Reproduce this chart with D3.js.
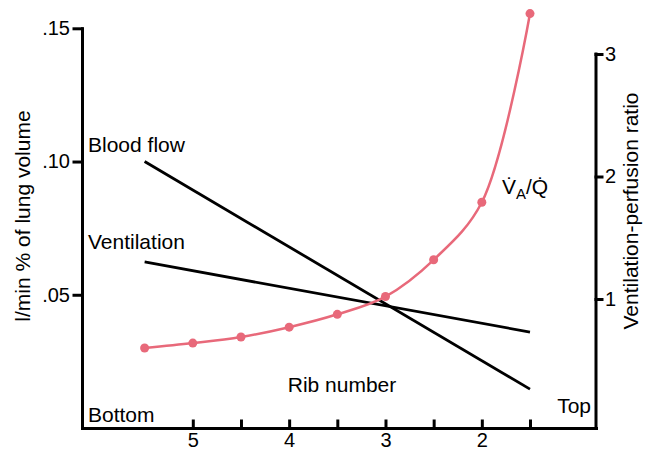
<!DOCTYPE html>
<html>
<head>
<meta charset="utf-8">
<script src="https://cdn.jsdelivr.net/npm/d3@7"></script>
<style>
  body { margin: 0; background: #fff; }
  svg text { font-family: "Liberation Sans", Arial, sans-serif; fill: #000; }
</style>
</head>
<body>
<svg id="chart" width="645" height="452"></svg>
<script>
// rib positions (bottom -> top of lung)
const ribs = [5.5, 5, 4.5, 4, 3.5, 3, 2.5, 2, 1.5];
const vqRatio = [0.60, 0.64, 0.69, 0.77, 0.875, 1.02, 1.32, 1.79, 3.33];
const lineRibs = [5.5, 1.5];
const bloodFlow = [0.100, 0.0146];
const ventilation = [0.0623, 0.036];
const ribTicks = [5, 4.5, 4, 3.5, 3, 2.5, 2, 1.5];
const leftTicks = [0.05, 0.10, 0.15];
const rightTicks = [1, 2, 3];

const svg = d3.select('#chart');
const pink = '#e8697a';

const x = d3.scaleLinear().domain([6.15, 0.815]).range([82, 596]);
const yL = d3.scaleLinear().domain([0, 0.15]).range([428, 28.3]);
const yR = d3.scaleLinear().domain([0, 3]).range([421.5, 54]);

function styleAxis(g) {
    g.attr('font-size', 20).attr('font-family', '"Liberation Sans", Arial, sans-serif');
    g.selectAll('path, line')
        .attr('stroke', '#000').attr('stroke-width', 3).attr('stroke-linecap', 'square');
}

// left axis
svg.append('g').attr('transform', 'translate(82,0)')
    .call(d3.axisLeft(yL).tickValues(leftTicks).tickSize(8).tickSizeOuter(0).tickPadding(4)
        .tickFormat(d => d3.format('.2f')(d).slice(1)))
    .call(styleAxis);

// right axis
svg.append('line').attr('x1', 596).attr('x2', 596).attr('y1', 54).attr('y2', 428)
    .attr('stroke', '#000').attr('stroke-width', 3).attr('stroke-linecap', 'square');
const gR = svg.append('g').attr('transform', 'translate(596,0)')
    .call(d3.axisRight(yR).tickValues(rightTicks).tickSize(6).tickPadding(3).tickFormat(d3.format('d')))
    .call(styleAxis);
gR.select('.domain').remove();

// bottom axis
svg.append('g').attr('transform', 'translate(0,428)')
    .call(d3.axisBottom(x).tickValues(ribTicks).tickSize(-7).tickSizeOuter(0).tickPadding(5)
        .tickFormat(d => Number.isInteger(d) ? d : ''))
    .call(styleAxis);

// straight lines
const line = d3.line().x(d => x(d[0])).y(d => yL(d[1]));
[bloodFlow, ventilation].forEach(s => {
    svg.append('path')
        .attr('d', line(lineRibs.map((r, i) => [r, s[i]])))
        .attr('fill', 'none').attr('stroke', '#000').attr('stroke-width', 2.8);
});

// V/Q curve
const vq = ribs.map((r, i) => [r, vqRatio[i]]);
svg.append('path')
    .attr('d', d3.line().x(d => x(d[0])).y(d => yR(d[1])).curve(d3.curveCatmullRom.alpha(0.5))(vq))
    .attr('fill', 'none').attr('stroke', pink).attr('stroke-width', 2.5);
svg.selectAll('circle.pt').data(vq).enter().append('circle')
    .attr('class', 'pt')
    .attr('cx', d => x(d[0])).attr('cy', d => yR(d[1])).attr('r', 4.5)
    .attr('fill', pink);

// labels
const label = (t, px, py, anchor) => svg.append('text')
    .attr('x', px).attr('y', py).attr('font-size', 21)
    .attr('text-anchor', anchor || 'start').text(t);
label('Blood flow', 88, 152);
label('Ventilation', 88, 249);
label('Rib number', 342, 392, 'middle');
label('Bottom', 88, 422);
label('Top', 591, 413, 'end');

svg.append('text').attr('font-size', 21).attr('text-anchor', 'middle')
    .attr('transform', 'translate(30,216) rotate(-90)').text('l/min % of lung volume');
svg.append('text').attr('font-size', 21).attr('text-anchor', 'middle')
    .attr('transform', 'translate(638,211) rotate(-90)').text('Ventilation-perfusion ratio');

const vqText = svg.append('text').attr('x', 502).attr('y', 194).attr('font-size', 21);
vqText.append('tspan').text('V\u0307');
vqText.append('tspan').attr('dy', 5).attr('font-size', 15).text('A');
vqText.append('tspan').attr('dy', -5).text('/Q\u0307');
</script>
</body>
</html>
